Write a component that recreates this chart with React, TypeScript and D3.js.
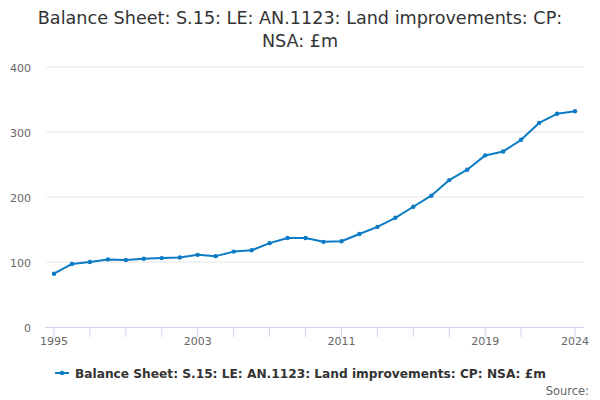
import React from "react";
import * as d3 from "d3";

const years: number[] = d3.range(1995, 2025);
const values: number[] = [
  82, 97, 100, 104, 103, 105, 106, 107, 111, 109,
  116, 118, 129, 137, 137, 131, 132, 143, 154, 168,
  185, 202, 226, 242, 264, 270, 288, 314, 328, 332,
];
const yTicks: number[] = [0, 100, 200, 300, 400];
const xTickYears: number[] = [1995, 1997, 1999, 2001, 2003, 2005, 2007, 2009, 2011, 2013, 2015, 2017, 2019, 2021, 2024];
const xLabelYears: number[] = [1995, 2003, 2011, 2019, 2024];
const titleLines: string[] = ["Balance Sheet: S.15: LE: AN.1123: Land improvements: CP:", "NSA: £m"];
const seriesName = "Balance Sheet: S.15: LE: AN.1123: Land improvements: CP: NSA: £m";

const W = 600;
const H = 400;
const plotLeft = 45;
const plotRight = 584;
const plotTop = 67;
const plotBottom = 327;
const color = "#0a7bc4";
const font = "'DejaVu Sans', sans-serif";

export default function App() {
  const x = d3.scaleLinear().domain([1995, 2024]).range([54, 575]);
  const y = d3.scaleLinear().domain([0, 400]).range([plotBottom, plotTop]);
  const line = d3
    .line<number>()
    .x((_, i) => x(years[i]))
    .y((d) => y(d));

  return (
    <svg width={W} height={H} style={{ position: "absolute", left: 0, top: 0, fontFamily: font }}>
      <rect width={W} height={H} fill="#fff" />
      {titleLines.map((t, i) => (
        <text key={i} x={300} y={24 + i * 23} textAnchor="middle" fontSize={17.6} fill="#333">
          {t}
        </text>
      ))}
      {yTicks.map((t) => (
        <g key={t}>
          {t > 0 && <line x1={plotLeft + 1} x2={plotRight} y1={y(t)} y2={y(t)} stroke="#e6e6e6" strokeWidth={1} />}
          <text x={31} y={y(t) + 4.5} textAnchor="end" fontSize={11} fill="#666">
            {t}
          </text>
        </g>
      ))}
      <line x1={plotLeft} x2={plotRight} y1={plotBottom + 0.5} y2={plotBottom + 0.5} stroke="#ccd6eb" strokeWidth={1} />
      {xTickYears.map((yr) => (
        <line key={yr} x1={x(yr)} x2={x(yr)} y1={plotBottom} y2={plotBottom + 10} stroke="#ccd6eb" strokeWidth={1} />
      ))}
      {xLabelYears.map((yr) => (
        <text key={yr} x={x(yr)} y={345} textAnchor="middle" fontSize={11} fill="#666">
          {yr}
        </text>
      ))}
      <path d={line(values) || ""} fill="none" stroke={color} strokeWidth={2} strokeLinejoin="round" />
      {values.map((v, i) => (
        <circle key={i} cx={x(years[i])} cy={y(v)} r={2.2} fill={color} />
      ))}
      <line x1={55} x2={69} y1={373} y2={373} stroke={color} strokeWidth={2} />
      <circle cx={62} cy={373} r={2.2} fill={color} />
      <text x={75} y={377.5} fontSize={12.2} fontWeight="bold" fill="#333">
        {seriesName}
      </text>
      <text x={589} y={395} textAnchor="end" fontSize={11.5} fill="#666">
        Source:
      </text>
    </svg>
  );
}
